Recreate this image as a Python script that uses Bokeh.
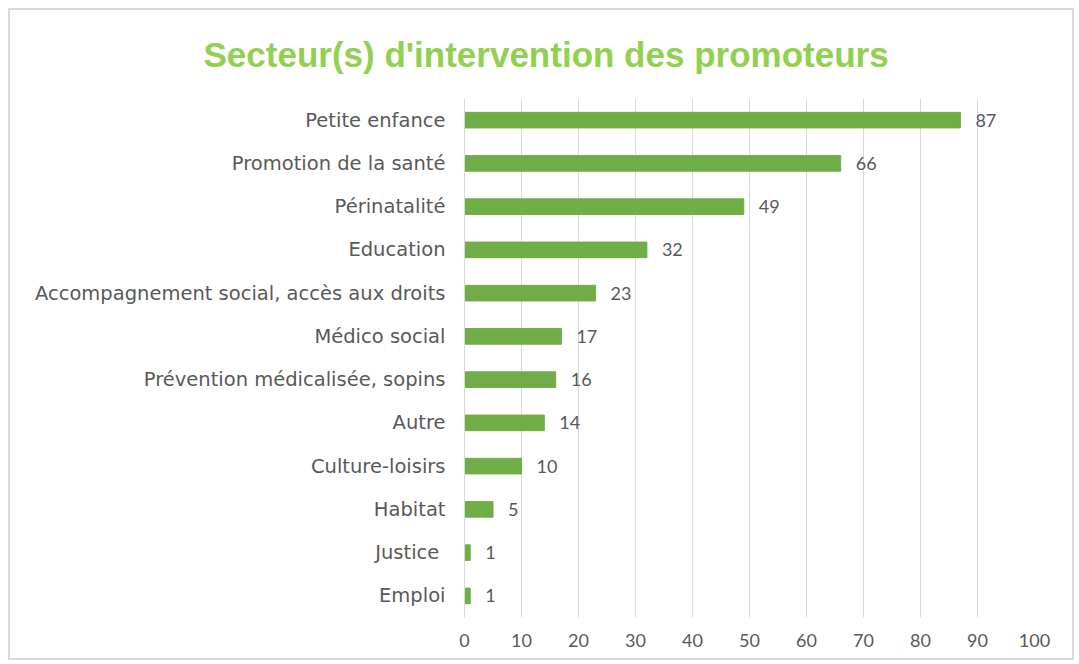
from bokeh.plotting import figure
from bokeh.models import ColumnDataSource, LabelSet, FixedTicker
from bokeh.embed import file_html
from bokeh.resources import INLINE
from bokeh.core.properties import value

categories = ["Petite enfance", "Promotion de la santé", "Périnatalité", "Education",
              "Accompagnement social, accès aux droits", "Médico social",
              "Prévention médicalisée, sopins", "Autre", "Culture-loisirs",
              "Habitat", "Justice ", "Emploi"]
counts = [87, 66, 49, 32, 23, 17, 16, 14, 10, 5, 1, 1]
x_ticks = [0, 10, 20, 30, 40, 50, 60, 70, 80, 90, 100]
title_text = "Secteur(s) d'intervention des promoteurs"

src = ColumnDataSource(dict(cat=categories, val=counts, lab=[str(v) for v in counts]))

p = figure(width=1066, height=652, y_range=list(reversed(categories)), x_range=(0, 100),
           output_backend="svg", toolbar_location=None,
           min_border_left=454, min_border_right=42, min_border_top=88, min_border_bottom=45)
p.styles = {"border": "2px solid #d9d9d9", "margin-left": "8px", "margin-top": "8px"}
p.y_range.range_padding = 0
p.hbar(y="cat", right="val", left=0, height=0.36, color="#70AD47", source=src)

labels = LabelSet(x="val", y="cat", text="lab", source=src, x_offset=15, y_offset=0,
                  text_baseline="middle", text_font=value("Lato"), text_font_size="18px",
                  text_color="#595959")
p.add_layout(labels)

p.title.text = title_text
p.title.align = "left"
p.title.offset = -261
p.title.standoff = 46
p.title.vertical_align = "top"
p.title.text_font = "Liberation Sans"
p.title.text_font_style = "bold"
p.title.text_font_size = "35px"
p.title.text_color = "#92D050"

p.outline_line_color = None
p.ygrid.grid_line_color = None
p.xgrid.grid_line_color = "#d9d9d9"
p.xgrid.ticker = FixedTicker(ticks=x_ticks)
p.xaxis.ticker = FixedTicker(ticks=x_ticks)
p.xaxis.axis_line_color = None
p.xaxis.major_tick_line_color = None
p.xaxis.minor_tick_line_color = None
p.xaxis.major_label_standoff = 10
p.xaxis.major_label_text_font = "Lato"
p.xaxis.major_label_text_font_size = "18px"
p.xaxis.major_label_text_color = "#595959"

p.yaxis.axis_line_color = "#d9d9d9"
p.yaxis.major_tick_line_color = None
p.yaxis.minor_tick_line_color = None
p.yaxis.major_label_standoff = 13
p.yaxis.major_label_text_font = "DejaVu Sans"
p.yaxis.major_label_text_font_size = "19.5px"
p.yaxis.major_label_text_color = "#595959"

open("out.html", "w").write(file_html(p, INLINE))
